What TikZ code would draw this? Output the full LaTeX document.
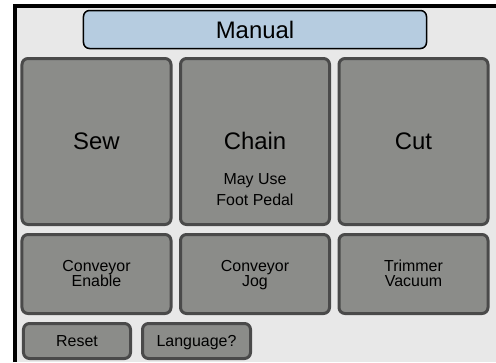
\documentclass[tikz,border=0pt]{standalone}
\usepackage{fontspec}
\setmainfont{Liberation Sans}
\usepackage{tikz}

\definecolor{panelbg}{HTML}{E8E8E8}
\definecolor{keyfill}{HTML}{8B8C89}
\definecolor{keyline}{HTML}{4A4A4A}
\definecolor{titlefill}{HTML}{B6CCE0}

\newcommand{\topstrut}{\rule{0pt}{15.5bp}}
\newcommand{\lowstrut}{\rule[-4.8bp]{0pt}{20.8bp}}

\begin{document}
\begin{tikzpicture}[x=1bp,y=-1bp,
		key/.style={draw=keyline,fill=keyfill,line width=3bp,rounded corners=6bp,minimum width=149bp,inner sep=0pt,align=center},
		bigkey/.style={key,minimum height=166bp,font=\fontsize{24}{28}\selectfont},
		smallkey/.style={key,minimum height=79bp,font=\fontsize{16}{16}\selectfont},
		lowkey/.style={key,minimum height=35bp,font=\fontsize{16}{16}\selectfont}]
			\useasboundingbox (0,0) rectangle (496,362);
			\fill[panelbg] (15,6) rectangle (496,362);
			\draw[black,line width=4bp] (15,362) -- (15,6) -- (496,6);

			\node[draw=black,fill=titlefill,line width=1.5bp,rounded corners=6bp,minimum width=343bp,minimum height=38bp,inner sep=0pt,font=\fontsize{24}{28}\selectfont] (title) at (255,29.5) {Manual};

			\node[bigkey] (sew) at (96.5,141.5) {};
			\node[bigkey] (chain) at (255,141.5) {};
			\node[bigkey] (cut) at (413.5,141.5) {};
			\node[font=\fontsize{24}{28}\selectfont] (sewtxt) at (sew.center) {Sew};
			\node[font=\fontsize{24}{28}\selectfont] (chaintxt) at (255,141) {Chain};
			\node[font=\fontsize{16}{21}\selectfont,align=center] (pedal) at (255,189.5) {May Use\\Foot Pedal};
			\node[font=\fontsize{24}{28}\selectfont] (cuttxt) at (cut.center) {Cut};

			\node[smallkey] (conv) at (96.5,274) {\topstrut Conveyor\\[-1bp]\strut Enable};
			\node[smallkey] (jog) at (255,274) {\topstrut Conveyor\\[-1bp]\strut Jog};
			\node[smallkey] (vac) at (413.5,274) {\topstrut Trimmer\\[-1bp]\strut Vacuum};

			\node[lowkey,minimum width=107bp] (reset) at (77,341) {\lowstrut Reset};
			\node[lowkey,minimum width=108bp] (lang) at (196.5,341) {\lowstrut Language?};
		\end{tikzpicture}
\end{document}
